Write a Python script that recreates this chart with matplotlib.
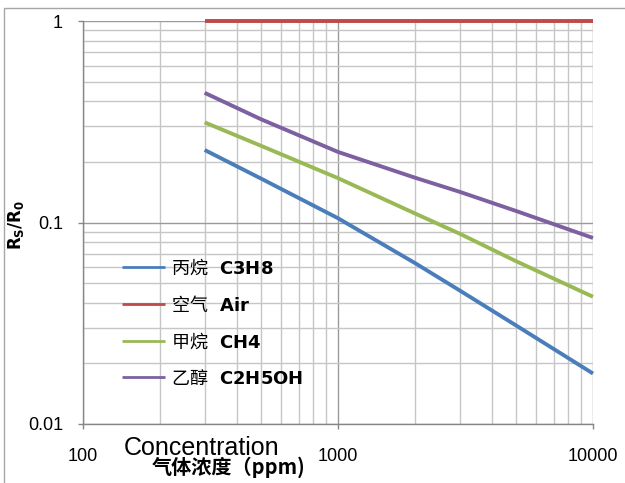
"""Sensitivity curves of a gas sensor: Rs/R0 against gas concentration."""

import matplotlib
matplotlib.use("Agg")
import matplotlib.pyplot as plt
from matplotlib.patches import Rectangle
from matplotlib.ticker import LogLocator, NullFormatter

plt.rcParams["font.family"] = ["Noto Sans CJK SC", "DejaVu Sans"]
plt.rcParams["mathtext.fontset"] = "dejavusans"

# values
concentration = [300, 500, 1000, 2000, 3000, 5000, 10000]
c3h8 = [0.229, 0.165, 0.105, 0.063, 0.046, 0.0308, 0.0178]
air = [1, 1, 1, 1, 1, 1, 1]
ch4 = [0.314, 0.240, 0.166, 0.111, 0.088, 0.0642, 0.0428]
c2h5oh = [0.44, 0.325, 0.224, 0.167, 0.142, 0.114, 0.0838]

series_labels = [
    "丙烷   $\\mathbf{C3H8}$",
    "空气   $\\mathbf{Air}$",
    "甲烷   $\\mathbf{CH4}$",
    "乙醇   $\\mathbf{C2H5OH}$",
]
series_colors = ["#4a7ebb", "#be4b48", "#98b954", "#7d60a0"]
x_ticks = [100, 1000, 10000]
x_tick_labels = ["100", "1000", "10000"]
y_ticks = [0.01, 0.1, 1]
y_tick_labels = ["0.01", "0.1", "1"]

fig = plt.figure(figsize=(6.25, 4.83), dpi=100)
ax = fig.add_axes([83 / 625, 1 - 424 / 483, 510 / 625, 403 / 483])

# outer chart frame
fig.patches.append(Rectangle((4 / 625, -0.1), 1.2, 1 - 8 / 483 + 0.1,
                             transform=fig.transFigure, fill=False,
                             edgecolor="#a6a6a6", linewidth=1.0))

for values, label, color in zip([c3h8, air, ch4, c2h5oh], series_labels, series_colors):
    ax.plot(concentration, values, color=color, linewidth=2.8, label=label,
            solid_capstyle="butt", solid_joinstyle="round", clip_on=False, zorder=3)

ax.set_xscale("log")
ax.set_yscale("log")
ax.set_xlim(100, 10000)
ax.set_ylim(0.01, 1)

ax.set_xticks(x_ticks)
ax.set_xticklabels(x_tick_labels, fontfamily="Liberation Sans", fontsize=13)
ax.set_yticks(y_ticks)
ax.set_yticklabels(y_tick_labels, fontfamily="Liberation Sans", fontsize=13)
ax.xaxis.set_minor_locator(LogLocator(base=10, subs=range(2, 10)))
ax.yaxis.set_minor_locator(LogLocator(base=10, subs=range(2, 10)))
ax.xaxis.set_minor_formatter(NullFormatter())
ax.yaxis.set_minor_formatter(NullFormatter())
ax.tick_params(which="major", length=3.6, width=1, color="#868686")
ax.tick_params(axis="x", which="major", pad=13.5)
ax.tick_params(axis="y", which="major", pad=10.8)
ax.tick_params(which="minor", length=0)

ax.grid(True, which="minor", color="#c6c6c6", linewidth=1.0)
ax.grid(True, which="major", color="#9a9a9a", linewidth=1.0)
ax.set_axisbelow(True)

for side in ["top", "right"]:
    ax.spines[side].set_visible(False)
for side in ["left", "bottom"]:
    ax.spines[side].set_color("#868686")
    ax.spines[side].set_linewidth(1.0)

ax.set_ylabel("$\\mathbf{R_S/R_0}$", fontsize=12)
ax.yaxis.set_label_coords((26 - 83) / 510, (424 - 225) / 403)

fig.text(202 / 625, 1 - 455 / 483, "Concentration", fontfamily="Liberation Sans",
         fontsize=18, ha="center", va="baseline")
fig.text(229 / 625, 1 - 467 / 483, "气体浓度（ppm)", fontsize=14.5, fontweight="bold",
         ha="center", va="center")

leg = ax.legend(loc="upper left", bbox_to_anchor=((122 - 83) / 510, 0.415),
                frameon=False, fontsize=13, handlelength=2.4, handletextpad=0.3,
                labelspacing=0.9, borderpad=0, borderaxespad=0)
for line in leg.get_lines():
    line.set_linewidth(2.0)

fig.savefig("out.png", dpi=100)
